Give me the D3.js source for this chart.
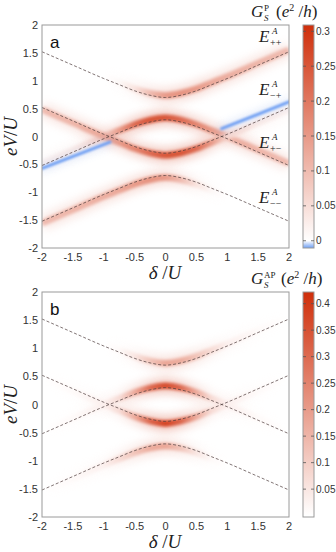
<html>
<meta charset="utf-8" />
<head>
<title>G_S spectra</title>
<script src="https://cdn.jsdelivr.net/npm/d3@7"></script>
<style>
body { margin: 0; background: #fff; }
.tick-label { font-family: "Liberation Sans", Arial, sans-serif; font-size: 11px; fill: #333; }
.cb-label { font-family: "Liberation Sans", Arial, sans-serif; font-size: 10px; fill: #333; }
.math { font-family: "Liberation Serif", "Times New Roman", serif; fill: #222; }
</style>
</head>
<body>
<svg id="chart" width="336" height="552"></svg>
<script>
// sample points along delta/U
const delta = [-2, -1.5, -1, -0.75, -0.5, -0.25, 0, 0.25, 0.5, 0.75, 1, 1.5, 2];

// dashed Andreev levels eV/U
const ePP = [1.52, 1.28, 1.04, 0.93, 0.82, 0.74, 0.70, 0.74, 0.82, 0.93, 1.04, 1.28, 1.52];
const ePM = [-0.52, -0.28, -0.04, 0.07, 0.18, 0.26, 0.30, 0.26, 0.18, 0.07, -0.04, -0.28, -0.52];
const eMP = [0.52, 0.28, 0.04, -0.07, -0.18, -0.26, -0.30, -0.26, -0.18, -0.07, 0.04, 0.28, 0.52];
const eMM = [-1.52, -1.28, -1.04, -0.93, -0.82, -0.74, -0.70, -0.74, -0.82, -0.93, -1.04, -1.28, -1.52];

// conductance along each level, panel a (parallel)
const gP_pp = [0, 0, 0, 0.01, 0.04, 0.10, 0.15, 0.16, 0.15, 0.13, 0.12, 0.11, 0.10];
const gP_pm = [0.02, 0.03, 0.06, 0.15, 0.22, 0.25, 0.25, 0.22, 0.18, 0.15, 0.13, 0.11, 0.10];
const gP_mp = [0.10, 0.11, 0.13, 0.15, 0.18, 0.22, 0.25, 0.25, 0.22, 0.15, 0.06, 0.03, 0.02];
const gP_mm = [0.10, 0.11, 0.12, 0.13, 0.15, 0.16, 0.15, 0.10, 0.04, 0.01, 0, 0, 0];

// conductance along each level, panel b (antiparallel)
const gAP_pp = [0, 0, 0, 0.01, 0.05, 0.12, 0.18, 0.17, 0.12, 0.07, 0.03, 0.01, 0];
const gAP_pm = [0, 0.01, 0.03, 0.07, 0.17, 0.30, 0.36, 0.30, 0.17, 0.07, 0.03, 0.01, 0];
const gAP_mp = [0, 0.01, 0.03, 0.07, 0.17, 0.31, 0.38, 0.31, 0.17, 0.07, 0.03, 0.01, 0];
const gAP_mm = [0, 0.01, 0.03, 0.07, 0.12, 0.17, 0.18, 0.12, 0.05, 0.01, 0, 0, 0];

// negative conductance stripes in panel a
const blueLeftDelta = [-2, -0.9];
const blueLeftV = [-0.57, -0.10];
const blueRightDelta = [0.91, 2];
const blueRightV = [0.14, 0.62];

// ticks
const axisTicks = [-2, -1.5, -1, -0.5, 0, 0.5, 1, 1.5, 2];
const cbTicksP = [0, 0.05, 0.1, 0.15, 0.2, 0.25, 0.3];
const cbTicksAP = [0.05, 0.1, 0.15, 0.2, 0.25, 0.3, 0.35, 0.4];
const cbRangeP = [-0.0104, 0.309];
const cbRangeAP = [-0.0026, 0.422];

const RED = '#cf2e0a', BLUE = '#6d9ef3';
const svg = d3.select('#chart');
const defs = svg.append('defs');

function blur(id, sd) {
	defs.append('filter').attr('id', id)
	.attr('filterUnits', 'userSpaceOnUse')
	.attr('x', 0).attr('y', 0).attr('width', 336).attr('height', 552)
	.append('feGaussianBlur').attr('stdDeviation', sd);
}
blur('blurCore', 1.5);
blur('blurHalo', 4);
blur('blurBlue', 0.9);

function drawPanel(p) {
	let x = d3.scaleLinear().domain([-2, 2]).range([42, 289]);
	let y = d3.scaleLinear().domain([-2, 2]).range([p.bottom, p.top]);
	let cr = p.cbRange;
	let color = d3.scaleLinear().domain([cr[0], 0, cr[1]])
		.range([p.neg, '#ffffff', RED]).clamp(true);

	let g = svg.append('g');
	defs.append('clipPath').attr('id', 'clip' + p.name)
	.append('rect').attr('x', 42).attr('y', p.top).attr('width', 247).attr('height', p.bottom - p.top);

	let plot = g.append('g').attr('clip-path', 'url(#clip' + p.name + ')');

	let line = d3.line().curve(d3.curveMonotoneX);
	let levels = [ePP, ePM, eMP, eMM];
	let glowShift = [-2, -2, 2, 2];	// glow sits on the outer side of each level

	// glow along each level, coloured by a horizontal gradient
	levels.forEach((lv, i) => {
		let gid = 'grad' + p.name + i;
		let grad = defs.append('linearGradient').attr('id', gid)
		.attr('gradientUnits', 'userSpaceOnUse')
		.attr('x1', x(-2)).attr('x2', x(2)).attr('y1', 0).attr('y2', 0);
		delta.forEach((d, j) => {
			grad.append('stop').attr('offset', (x(d) - x(-2)) / (x(2) - x(-2)))
			.attr('stop-color', color(p.g[i][j]));
		});
		let pts = delta.map((d, j) => [x(d), y(lv[j]) + glowShift[i]]);
		plot.append('path').attr('d', line(pts))
		.attr('fill', 'none').attr('stroke', 'url(#' + gid + ')')
		.attr('stroke-width', 16).attr('opacity', 0.3).attr('filter', 'url(#blurHalo)');
		plot.append('path').attr('d', line(pts))
		.attr('fill', 'none').attr('stroke', 'url(#' + gid + ')')
		.attr('stroke-width', 6.5).attr('filter', 'url(#blurCore)');
	});

	// negative stripes
	(p.blue || []).forEach((b) => {
		let pts = b[0].map((d, j) => [x(d), y(b[1][j])]);
		plot.append('path').attr('d', d3.line()(pts))
		.attr('fill', 'none').attr('stroke', BLUE).attr('stroke-width', 8)
		.attr('opacity', 0.18).attr('stroke-linecap', 'round').attr('filter', 'url(#blurHalo)');
		plot.append('path').attr('d', d3.line()(pts))
		.attr('fill', 'none').attr('stroke', BLUE).attr('stroke-width', 3)
		.attr('stroke-linecap', 'round').attr('filter', 'url(#blurBlue)');
	});

	// dashed levels
	levels.forEach((lv) => {
		let pts = delta.map((d, j) => [x(d), y(lv[j])]);
		plot.append('path').attr('d', line(pts))
		.attr('fill', 'none').attr('stroke', '#4a3a3a').attr('stroke-width', 0.7)
		.attr('stroke-dasharray', '3,2');
	});

	// frame
	g.append('rect').attr('x', 42).attr('y', p.top).attr('width', 247).attr('height', p.bottom - p.top)
	.attr('fill', 'none').attr('stroke', '#9a9a9a').attr('stroke-width', 1);

	// tick labels
	g.selectAll('text.xt').data(axisTicks).enter().append('text')
	.attr('class', 'tick-label').attr('x', (d) => x(d)).attr('y', p.bottom + 13)
	.attr('text-anchor', 'middle').text((d) => d);
	g.selectAll('text.yt').data(axisTicks).enter().append('text')
	.attr('class', 'tick-label').attr('x', 38).attr('y', (d) => y(d) + 4)
	.attr('text-anchor', 'end').text((d) => d);

	// axis titles
	let xl = g.append('text').attr('class', 'math').attr('x', 165).attr('y', p.bottom + 31)
	.attr('text-anchor', 'middle').attr('font-size', 19).attr('font-style', 'italic');
	xl.append('tspan').text('δ');
	xl.append('tspan').attr('font-style', 'normal').text(' /');
	xl.append('tspan').text('U');
	let yl = g.append('text').attr('class', 'math').attr('font-size', 19).attr('font-style', 'italic')
	.attr('text-anchor', 'middle')
	.attr('transform', 'translate(17,' + ((p.top + p.bottom) / 2) + ') rotate(-90)');
	yl.append('tspan').text('eV');
	yl.append('tspan').attr('font-style', 'normal').text('/');
	yl.append('tspan').text('U');

	// panel letter
	g.append('text').attr('x', 50).attr('y', p.top + 23)
	.attr('font-family', 'Liberation Sans, Arial, sans-serif').attr('font-size', 17).attr('fill', '#111')
	.text(p.name);

	// level labels
	(p.levelLabels || []).forEach((l) => {
		let t = g.append('text').attr('class', 'math').attr('font-style', 'italic');
		t.append('tspan').attr('x', 259).attr('y', y(l[1])).attr('font-size', 17).text('E');
		t.append('tspan').attr('x', 272).attr('y', y(l[1]) - 8).attr('font-size', 9).text('A');
		t.append('tspan').attr('x', 270).attr('y', y(l[1]) + 4).attr('font-size', 10)
		.attr('font-style', 'normal').text(l[0]);
	});

	// colour bar
	let cy = d3.scaleLinear().domain(cr).range([p.bottom, p.top]);
	let cgid = 'cb' + p.name;
	let cg = defs.append('linearGradient').attr('id', cgid)
	.attr('x1', 0).attr('y1', 1).attr('x2', 0).attr('y2', 0);
	color.domain().forEach((v) => {
		cg.append('stop').attr('offset', (v - cr[0]) / (cr[1] - cr[0])).attr('stop-color', color(v));
	});
	g.append('rect').attr('x', 303).attr('y', p.top).attr('width', 11).attr('height', p.bottom - p.top)
	.attr('fill', 'url(#' + cgid + ')').attr('stroke', '#9a9a9a').attr('stroke-width', 1);
	p.cbTicks.forEach((v) => {
		g.append('line').attr('x1', 303).attr('x2', 306).attr('y1', cy(v)).attr('y2', cy(v))
		.attr('stroke', '#555').attr('stroke-width', 0.8);
		g.append('line').attr('x1', 311).attr('x2', 314).attr('y1', cy(v)).attr('y2', cy(v))
		.attr('stroke', '#555').attr('stroke-width', 0.8);
		g.append('text').attr('class', 'cb-label').attr('x', 316).attr('y', cy(v) + 3.5).text(v);
	});

	// colour bar title
	let tt = g.append('text').attr('class', 'math').attr('font-size', 17);
	tt.append('tspan').attr('x', 251).attr('y', p.top - 8).attr('font-style', 'italic').text('G');
	tt.append('tspan').attr('x', 264).attr('y', p.top - 4).attr('font-size', 9).attr('font-style', 'italic').text('S');
	tt.append('tspan').attr('x', 264).attr('y', p.top - 14).attr('font-size', 9).text(p.sup);
	let tx = p.sup.length > 1 ? 281 : 276;
	tt.append('tspan').attr('x', tx).attr('y', p.top - 8).text('(');
	tt.append('tspan').attr('font-style', 'italic').text('e');
	tt.append('tspan').attr('dy', -6).attr('font-size', 10).text('2');
	tt.append('tspan').attr('dy', 6).text(' /');
	tt.append('tspan').attr('font-style', 'italic').text('h');
	tt.append('tspan').text(')');
}

drawPanel({
	name: 'a', top: 25, bottom: 248, sup: 'P', neg: BLUE, cbRange: cbRangeP,
	g: [gP_pp, gP_pm, gP_mp, gP_mm], cbTicks: cbTicksP,
	blue: [[blueLeftDelta, blueLeftV], [blueRightDelta, blueRightV]],
	levelLabels: [['++', 1.7], ['\u2212+', 0.75], ['+\u2212', -0.2], ['\u2212\u2212', -1.2]]
});
drawPanel({
	name: 'b', top: 292, bottom: 517, sup: 'AP', neg: '#ffffff', cbRange: cbRangeAP,
	g: [gAP_pp, gAP_pm, gAP_mp, gAP_mm], cbTicks: cbTicksAP
});
</script>
</body>
</html>
